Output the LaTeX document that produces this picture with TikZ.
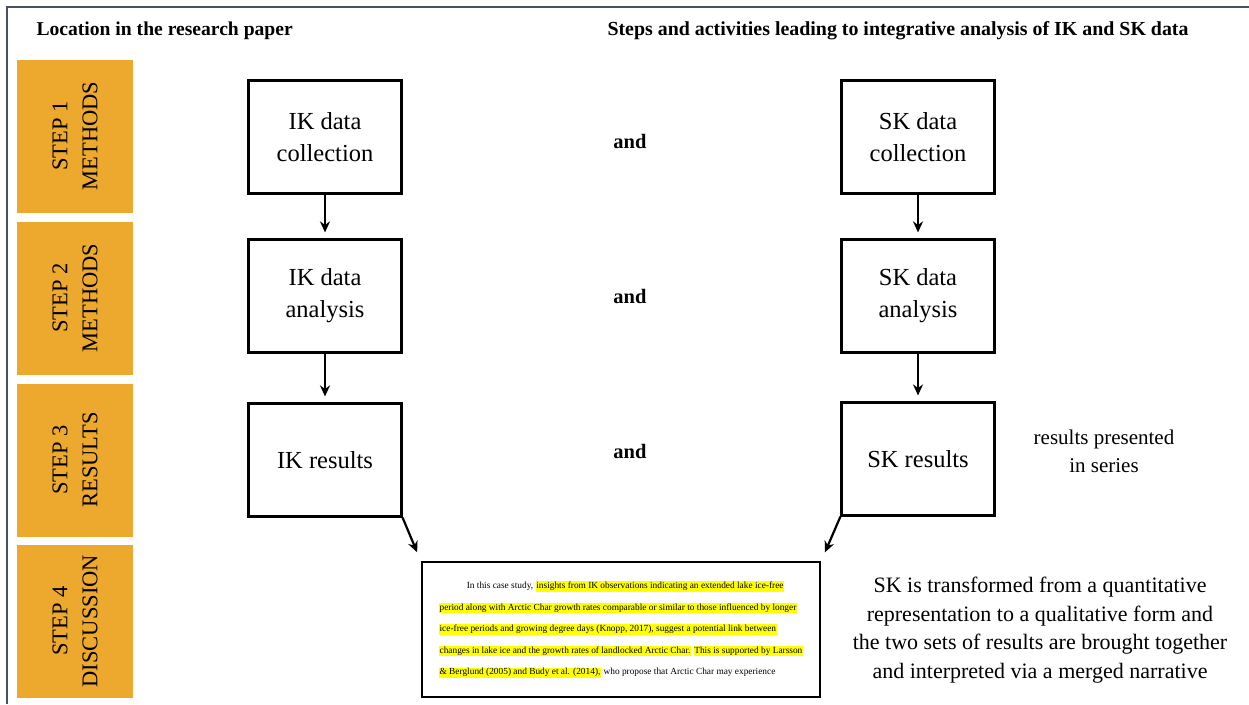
\documentclass[tikz,border=0pt]{standalone}
\usepackage{fontspec}
\setmainfont{Liberation Serif}
\usetikzlibrary{positioning,arrows.meta}
\definecolor{stepgold}{RGB}{236,169,46}
\definecolor{framegray}{RGB}{72,82,98}
\definecolor{markyellow}{RGB}{255,255,0}
\newcommand{\hlt}[1]{{\setlength{\fboxsep}{0.8pt}\colorbox{markyellow}{#1}}}

\begin{document}
\begin{tikzpicture}[
    x=1pt, y=-1pt,
    stepbox/.style={rectangle, fill=stepgold, rotate=90, minimum width=153pt, minimum height=116pt, align=center, font=\fontsize{22.5}{30}\selectfont},
    databox/.style={rectangle, draw=black, line width=2.2pt, minimum width=153pt, minimum height=113pt, align=center, font=\fontsize{24.5}{32}\selectfont},
    andlabel/.style={font=\fontsize{20.5}{24}\selectfont\bfseries},
    header/.style={anchor=west, font=\fontsize{19.6}{24}\selectfont\bfseries},
    arrow/.style={-{Stealth[length=11pt,width=10pt]}, line width=2.2pt, shorten >=6pt}
]
\useasboundingbox (0,0) rectangle (1249,704);

% Outer frame
\draw[framegray, line width=1.6pt] (7,704) -- (7,7) -- (1249,7);

% Headers
\node[header] (hleft) at (33,31) {Location in the research paper};
\node[header, font=\fontsize{19.9}{24}\selectfont\bfseries] (hright) at (604,31) {Steps and activities leading to integrative analysis of IK and SK data};

% Steps
\node[stepbox] (st1) at (75,136) {STEP 1\\METHODS};
\node[stepbox] (st2) at (75,298) {STEP 2\\METHODS};
\node[stepbox] (st3) at (75,460) {STEP 3\\RESULTS};
\node[stepbox] (st4) at (75,621) {STEP 4\\DISCUSSION};

% IK side
\node[databox] (ikc) at (325,137) {IK data\\collection};
\node[databox] (ika) at (325,296) {IK data\\analysis};
\node[databox] (ikr) at (325,460) {IK results};

% SK side
\node[databox] (skc) at (918,137) {SK data\\collection};
\node[databox] (ska) at (918,296) {SK data\\analysis};
\node[databox] (skr) at (918,459) {SK results};

% and
\node[andlabel] (and1) at (630,141) {and};
\node[andlabel] (and2) at (630,296) {and};
\node[andlabel] (and3) at (630,451) {and};

\node[align=center, font=\fontsize{21}{28}\selectfont] (series) at (1104,451) {results presented\\in series};

% Merged narrative
\node[rectangle, draw=black, line width=2.8pt, minimum width=398pt, minimum height=135pt] (merged) at (621,629.5) {};
\node[align=left, font=\fontsize{9.35}{21.5}\selectfont] (mtext) at (merged.center) {%
\hspace*{28pt}In this case study, \hlt{insights from IK observations indicating an extended lake ice-free}\\
\hlt{period along with Arctic Char growth rates comparable or similar to those influenced by longer}\\
\hlt{ice-free periods and growing degree days (Knopp, 2017), suggest a potential link between}\\
\hlt{changes in lake ice and the growth rates of landlocked Arctic Char.} \hlt{This is supported by Larsson}\\
\hlt{\& Berglund (2005) and Budy et al. (2014),} who propose that Arctic Char may experience};

\node[align=center, font=\fontsize{22}{28.7}\selectfont] (note) at (1040,630) {SK is transformed from a quantitative\\representation to a qualitative form and\\the two sets of results are brought together\\and interpreted via a merged narrative};

% Arrows
\draw[arrow] (ikc) -- (ika);
\draw[arrow] (ika) -- (ikr);
\draw[arrow] (skc) -- (ska);
\draw[arrow] (ska) -- (skr);
\draw[arrow, shorten >=9pt] (ikr.south east) -- (merged.north west);
\draw[arrow, shorten >=9pt] (skr.south west) -- (merged.north east);

\end{tikzpicture}
\end{document}
